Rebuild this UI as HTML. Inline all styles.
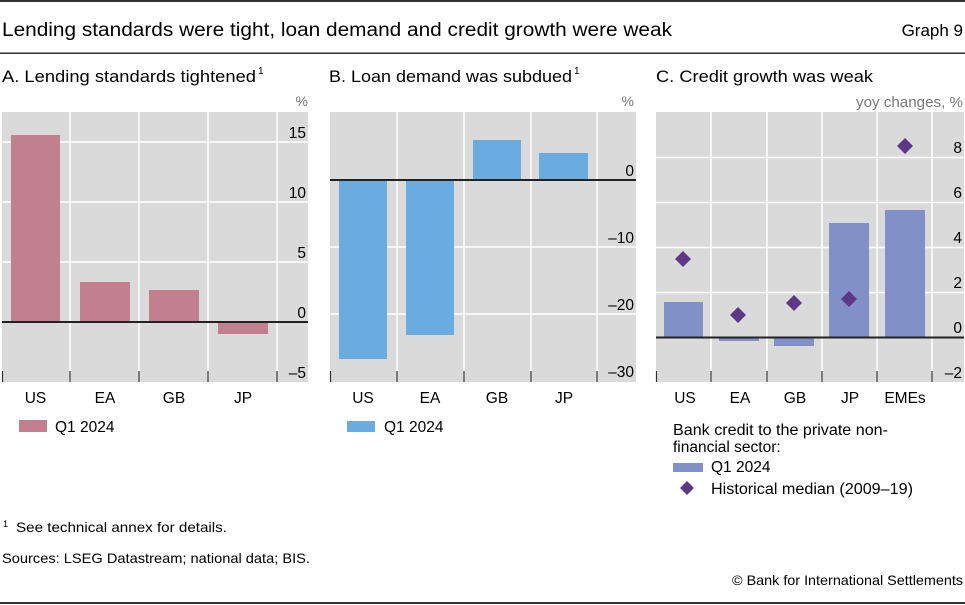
<!DOCTYPE html>
<html><head><meta charset="utf-8"><style>
html,body{margin:0;padding:0;background:#fff;}
svg{display:block;font-family:"Liberation Sans",Arial,sans-serif;}
</style></head><body>
<svg width="965" height="605" viewBox="0 0 965 605" xmlns="http://www.w3.org/2000/svg">
<!-- header -->
<rect x="0" y="0" width="965" height="2" fill="#333"/>
<text x="2" y="36" font-size="19" fill="#000" textLength="670" lengthAdjust="spacingAndGlyphs">Lending standards were tight, loan demand and credit growth were weak</text>
<text x="963" y="36" font-size="17" fill="#000" text-anchor="end">Graph 9</text>
<rect x="0" y="52.5" width="965" height="1.5" fill="#333"/>

<!-- panel titles -->
<text x="2" y="82" font-size="16.5" fill="#000" textLength="254" lengthAdjust="spacingAndGlyphs">A. Lending standards tightened</text>
<text x="258" y="74" font-size="10" fill="#000">1</text>
<text x="329" y="82" font-size="16.5" fill="#000" textLength="243" lengthAdjust="spacingAndGlyphs">B. Loan demand was subdued</text>
<text x="574" y="74" font-size="10" fill="#000">1</text>
<text x="656" y="82" font-size="16.5" fill="#000" textLength="217" lengthAdjust="spacingAndGlyphs">C. Credit growth was weak</text>

<!-- units -->
<text x="308" y="106" font-size="14" fill="#777" text-anchor="end">%</text>
<text x="634" y="106" font-size="14" fill="#777" text-anchor="end">%</text>
<text x="963" y="107" font-size="14.5" fill="#777" text-anchor="end" textLength="107" lengthAdjust="spacingAndGlyphs">yoy changes, %</text>

<!-- ===== Panel A ===== -->
<rect x="2" y="112" width="306" height="270" fill="#dadada"/>
<g stroke="#fff" stroke-width="1.5">
<line x1="2" y1="142" x2="308" y2="142"/>
<line x1="2" y1="202" x2="308" y2="202"/>
<line x1="2" y1="262" x2="308" y2="262"/>
<line x1="70" y1="112" x2="70" y2="382"/>
<line x1="139" y1="112" x2="139" y2="382"/>
<line x1="208" y1="112" x2="208" y2="382"/>
<line x1="277" y1="112" x2="277" y2="382"/>
</g>
<g fill="#c17f8f">
<rect x="11" y="135" width="49" height="187"/>
<rect x="80" y="282" width="50" height="40"/>
<rect x="149" y="290" width="50" height="32"/>
<rect x="218" y="322" width="50" height="12"/>
</g>
<rect x="2" y="321" width="306" height="2" fill="#222"/>
<g stroke="#333" stroke-width="1.2">
<line x1="2.5" y1="371" x2="2.5" y2="382"/>
<line x1="70" y1="371" x2="70" y2="382"/>
<line x1="139" y1="371" x2="139" y2="382"/>
<line x1="208" y1="371" x2="208" y2="382"/>
<line x1="277" y1="371" x2="277" y2="382"/>
</g>
<g font-size="15.5" fill="#000" text-anchor="end">
<text x="306" y="138">15</text>
<text x="306" y="198">10</text>
<text x="306" y="258">5</text>
<text x="306" y="318">0</text>
<text x="306" y="378">–5</text>
</g>
<g font-size="15.5" fill="#000" text-anchor="middle">
<text x="35.5" y="403">US</text>
<text x="105" y="403">EA</text>
<text x="174" y="403">GB</text>
<text x="243" y="403">JP</text>
</g>
<rect x="19" y="420" width="28" height="12" fill="#c17f8f"/>
<text x="55" y="432" font-size="15.5" fill="#000">Q1 2024</text>

<!-- ===== Panel B ===== -->
<rect x="330" y="112" width="306" height="270" fill="#dadada"/>
<g stroke="#fff" stroke-width="1.5">
<line x1="330" y1="247" x2="636" y2="247"/>
<line x1="330" y1="314" x2="636" y2="314"/>
<line x1="397" y1="112" x2="397" y2="382"/>
<line x1="464" y1="112" x2="464" y2="382"/>
<line x1="531" y1="112" x2="531" y2="382"/>
<line x1="597" y1="112" x2="597" y2="382"/>
</g>
<g fill="#6aace0">
<rect x="339" y="180" width="48" height="179"/>
<rect x="406" y="180" width="48" height="155"/>
<rect x="473" y="140" width="48" height="40"/>
<rect x="539" y="153" width="49" height="27"/>
</g>
<rect x="330" y="179" width="306" height="2" fill="#222"/>
<g stroke="#333" stroke-width="1.2">
<line x1="330.5" y1="371" x2="330.5" y2="382"/>
<line x1="397" y1="371" x2="397" y2="382"/>
<line x1="464" y1="371" x2="464" y2="382"/>
<line x1="531" y1="371" x2="531" y2="382"/>
<line x1="597" y1="371" x2="597" y2="382"/>
</g>
<g font-size="15.5" fill="#000" text-anchor="end">
<text x="634" y="176">0</text>
<text x="634" y="243">–10</text>
<text x="634" y="310">–20</text>
<text x="634" y="377">–30</text>
</g>
<g font-size="15.5" fill="#000" text-anchor="middle">
<text x="363" y="403">US</text>
<text x="430" y="403">EA</text>
<text x="497" y="403">GB</text>
<text x="564" y="403">JP</text>
</g>
<rect x="347" y="421" width="28" height="11" fill="#6aace0"/>
<text x="384" y="432" font-size="15.5" fill="#000">Q1 2024</text>

<!-- ===== Panel C ===== -->
<rect x="656" y="112" width="308" height="270" fill="#dadada"/>
<g stroke="#fff" stroke-width="1.5">
<line x1="656" y1="157.5" x2="964" y2="157.5"/>
<line x1="656" y1="202.5" x2="964" y2="202.5"/>
<line x1="656" y1="247.5" x2="964" y2="247.5"/>
<line x1="656" y1="292.5" x2="964" y2="292.5"/>
<line x1="711" y1="112" x2="711" y2="382"/>
<line x1="767" y1="112" x2="767" y2="382"/>
<line x1="822" y1="112" x2="822" y2="382"/>
<line x1="877" y1="112" x2="877" y2="382"/>
<line x1="932" y1="112" x2="932" y2="382"/>
</g>
<g fill="#8190c6">
<rect x="664" y="302" width="39" height="35.5"/>
<rect x="719" y="337.5" width="40" height="3.5"/>
<rect x="774" y="337.5" width="40" height="8.5"/>
<rect x="829" y="223" width="40" height="114.5"/>
<rect x="885" y="210" width="40" height="127.5"/>
</g>
<rect x="656" y="336.5" width="308" height="2" fill="#222"/>
<g fill="#5e3787">
<polygon points="683,251 691,259 683,267 675,259"/>
<polygon points="738,307 746,315 738,323 730,315"/>
<polygon points="794,295 802,303 794,311 786,303"/>
<polygon points="849,291 857,299 849,307 841,299"/>
<polygon points="905,138 913,146 905,154 897,146"/>
</g>
<g stroke="#333" stroke-width="1.2">
<line x1="656.5" y1="371" x2="656.5" y2="382"/>
<line x1="711" y1="371" x2="711" y2="382"/>
<line x1="767" y1="371" x2="767" y2="382"/>
<line x1="822" y1="371" x2="822" y2="382"/>
<line x1="877" y1="371" x2="877" y2="382"/>
<line x1="932" y1="371" x2="932" y2="382"/>
</g>
<g font-size="15.5" fill="#000" text-anchor="end">
<text x="962" y="153">8</text>
<text x="962" y="198">6</text>
<text x="962" y="243">4</text>
<text x="962" y="288">2</text>
<text x="962" y="333">0</text>
<text x="962" y="378">–2</text>
</g>
<g font-size="15.5" fill="#000" text-anchor="middle">
<text x="685" y="403">US</text>
<text x="740" y="403">EA</text>
<text x="795" y="403">GB</text>
<text x="850" y="403">JP</text>
<text x="905" y="403">EMEs</text>
</g>
<text x="673" y="435" font-size="15.5" fill="#000" textLength="215" lengthAdjust="spacingAndGlyphs">Bank credit to the private non-</text>
<text x="673" y="452" font-size="15.5" fill="#000">financial sector:</text>
<rect x="673" y="463" width="30" height="9" fill="#8190c6"/>
<text x="711" y="472" font-size="15.5" fill="#000">Q1 2024</text>
<polygon points="687,481 694,488 687,495 680,488" fill="#5e3787"/>
<text x="711" y="494" font-size="15.5" fill="#000" textLength="202" lengthAdjust="spacingAndGlyphs">Historical median (2009–19)</text>

<!-- footer -->
<text x="3" y="527" font-size="9" fill="#000">1</text>
<text x="16" y="532" font-size="14" fill="#000" textLength="211" lengthAdjust="spacingAndGlyphs">See technical annex for details.</text>
<text x="2" y="563" font-size="14" fill="#000" textLength="308" lengthAdjust="spacingAndGlyphs">Sources: LSEG Datastream; national data; BIS.</text>
<text x="963" y="585" font-size="14" fill="#000" text-anchor="end" textLength="231" lengthAdjust="spacingAndGlyphs">© Bank for International Settlements</text>
<rect x="0" y="602" width="965" height="2" fill="#333"/>
</svg>
</body></html>
